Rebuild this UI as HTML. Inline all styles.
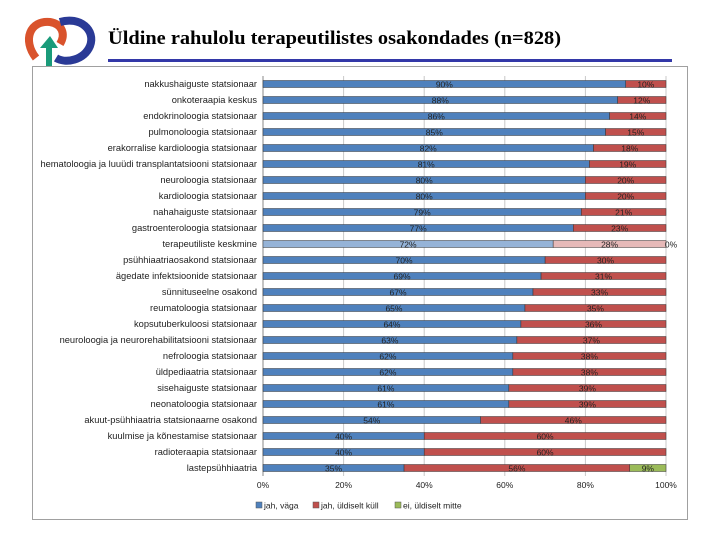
<!DOCTYPE html>
<html><head><meta charset="utf-8"><style>
html,body{margin:0;padding:0;background:#fff;width:720px;height:540px;overflow:hidden}
svg{display:block;font-family:"Liberation Sans",sans-serif}
</style></head><body>
<svg id="c" width="720" height="540" viewBox="0 0 720 540" xmlns="http://www.w3.org/2000/svg">
<g>
<path d="M36 58 C22 40 30 20 50 22 C62 24 66 34 60 44" fill="none" stroke="#d9532c" stroke-width="8"/>
<path d="M60 22 C80 16 96 30 90 46 C84 60 66 64 56 58" fill="none" stroke="#2a3a96" stroke-width="8"/>
<path d="M46 66 L46 48 L40 48 L50 36 L58 48 L52 48 L52 66Z" fill="#1a9b7a"/>
</g>
<text x="108" y="44" font-family="Liberation Serif,serif" font-weight="bold" font-size="19" textLength="453" lengthAdjust="spacingAndGlyphs">Üldine rahulolu terapeutilistes osakondades (n=828)</text>
<rect x="108" y="59" width="564" height="3" fill="#3338a8"/>
<rect x="32.5" y="66.5" width="655" height="453" fill="none" stroke="#a0a0a0"/>
<g id="grid"></g><g id="bars"></g><g id="labels"></g>
<g font-size="8.5" fill="#222">
<rect x="256" y="502" width="6" height="6" fill="#4f81bd" stroke="#555" stroke-width="0.5"/><text x="264" y="508.5">jah, väga</text>
<rect x="313" y="502" width="6" height="6" fill="#c0504d" stroke="#555" stroke-width="0.5"/><text x="321" y="508.5">jah, üldiselt küll</text>
<rect x="395" y="502" width="6" height="6" fill="#9bbb59" stroke="#555" stroke-width="0.5"/><text x="403" y="508.5">ei, üldiselt mitte</text>
</g>
</svg>
<script>
const categories=["nakkushaiguste statsionaar","onkoteraapia keskus","endokrinoloogia statsionaar","pulmonoloogia statsionaar","erakorralise kardioloogia statsionaar","hematoloogia ja luuüdi transplantatsiooni statsionaar","neuroloogia statsionaar","kardioloogia statsionaar","nahahaiguste statsionaar","gastroenteroloogia statsionaar","terapeutiliste keskmine","psühhiaatriaosakond statsionaar","ägedate infektsioonide statsionaar","sünnituseelne osakond","reumatoloogia statsionaar","kopsutuberkuloosi statsionaar","neuroloogia ja neurorehabilitatsiooni statsionaar","nefroloogia statsionaar","üldpediaatria statsionaar","sisehaiguste statsionaar","neonatoloogia statsionaar","akuut-psühhiaatria statsionaarne osakond","kuulmise ja kõnestamise statsionaar","radioteraapia statsionaar","lastepsühhiaatria"];
const veryYes=[90,88,86,85,82,81,80,80,79,77,72,70,69,67,65,64,63,62,62,61,61,54,40,40,35];
const ratherYes=[10,12,14,15,18,19,20,20,21,23,28,30,31,33,35,36,37,38,38,39,39,46,60,60,56];
const notReally=[0,0,0,0,0,0,0,0,0,0,0,0,0,0,0,0,0,0,0,0,0,0,0,0,9];
const ticks=[0,20,40,60,80,100];
const NS="http://www.w3.org/2000/svg";
const x0=263,x1=666,yTop=76,yBot=476;
const X=v=>x0+(x1-x0)*v/100;
const band=(yBot-yTop)/categories.length;
const Y=i=>yTop+band*(i+0.5);
function mk(t,a,p){const e=document.createElementNS(NS,t);for(const k in a)e.setAttribute(k,a[k]);p.appendChild(e);return e;}
const G=document.getElementById('grid'),B=document.getElementById('bars'),L=document.getElementById('labels');
ticks.forEach(t=>{
 const l=mk('line',{x1:X(t),x2:X(t),y1:yTop,y2:yBot,stroke:t===0?'#888':'#c8c8c8','stroke-width':1},G);
 
 
 const tx=mk('text',{x:X(t),y:488,'font-size':8.5,'text-anchor':'middle',fill:'#222'},G);
 tx.textContent=t+'%';
 
 
});
const series=[[veryYes,'#4f81bd','#95b3d7','very'],[ratherYes,'#c0504d','#e6b9b8','rather'],[notReally,'#9bbb59','#c3d69b','not']];
categories.forEach((c,i)=>{
 const y=Y(i),h=7;const avg=c==="terapeutiliste keskmine";
 const lb=mk('text',{x:257,y:y+3,'font-size':9.3,'text-anchor':'end',fill:'#222'},L);
 lb.textContent=c;
 
 
 let acc=0;
 series.forEach(([arr,col,lc,nm],s)=>{
  const v=arr[i];
  if(v>0){
   const r=mk('rect',{x:X(acc),y:y-h/2,width:X(acc+v)-X(acc),height:h,fill:avg?lc:col,stroke:'#333','stroke-width':0.5},B);
   
   
  }
  if(v>0||(avg&&s===2)){
   const t=mk('text',{x:s===2&&v===0?X(acc)+5:X(acc+v/2),y:y+3.5,'font-size':8.5,'text-anchor':'middle',fill:'#222'},L);
   t.textContent=v+'%';
   
   
  }
  acc+=v;
 });
});
</script>
</body></html>
